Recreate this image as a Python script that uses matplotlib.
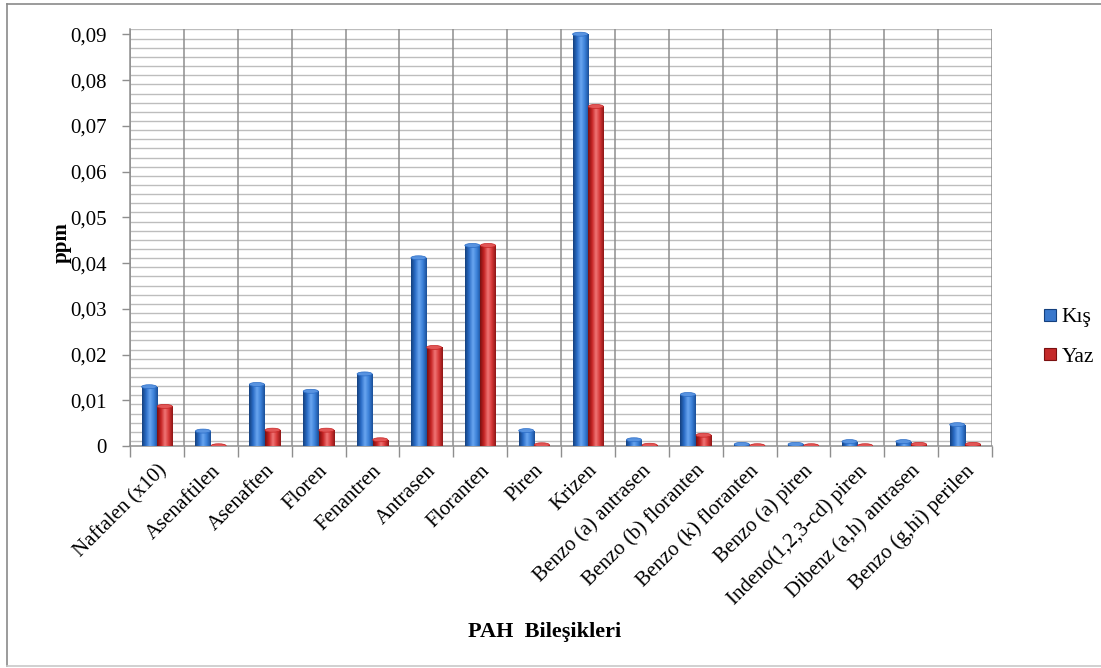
import numpy as np
import matplotlib
matplotlib.use("Agg")
import matplotlib.pyplot as plt
from matplotlib.patches import Rectangle, Ellipse
from matplotlib.lines import Line2D
from matplotlib.colors import LinearSegmentedColormap
from matplotlib.transforms import ScaledTranslation

plt.rcParams['font.family'] = ['Liberation Serif', 'DejaVu Serif']

categories = ["Naftalen (x10)", "Asenaftilen", "Asenaften", "Floren", "Fenantren",
              "Antrasen", "Floranten", "Piren", "Krizen", "Benzo (a) antrasen",
              "Benzo (b) floranten", "Benzo (k) floranten", "Benzo (a) piren",
              "Indeno(1,2,3-cd) piren", "Dibenz (a,h) antrasen", "Benzo (g,hi) perilen"]
kis = [0.0134, 0.0037, 0.0139, 0.0124, 0.0162, 0.0416, 0.0443, 0.0038, 0.0905,
       0.0018, 0.0117, 0.0008, 0.0008, 0.0014, 0.0014, 0.0051]
yaz = [0.0091, 0.0003, 0.0039, 0.0039, 0.0018, 0.0220, 0.0443, 0.0007, 0.0747,
       0.0006, 0.0028, 0.0005, 0.0005, 0.0005, 0.0008, 0.0008]
series_names = ["Kış", "Yaz"]
yticks = [0, 0.01, 0.02, 0.03, 0.04, 0.05, 0.06, 0.07, 0.08, 0.09]
ytick_labels = ["0", "0,01", "0,02", "0,03", "0,04", "0,05", "0,06", "0,07", "0,08", "0,09"]

W, H = 1101, 668
fig = plt.figure(figsize=(W / 100, H / 100), dpi=100)
ax_l, ax_r, ax_t, ax_b = 130, 992, 29, 446
ax = fig.add_axes([ax_l / W, 1 - ax_b / H, (ax_r - ax_l) / W, (ax_b - ax_t) / H])

n = len(categories)
ymax = 0.0912
ax.set_xlim(-0.5, n - 0.5)
ax.set_ylim(0, ymax)

# back-wall grid, shifted slightly upward for the depth look
shift = ScaledTranslation(0, 5 / 100, fig.dpi_scale_trans)
grid_y = np.arange(0, 0.0901, 0.002)
ax.hlines(grid_y, 0, 1, transform=ax.get_yaxis_transform() + shift,
          colors="#bdbdbd", lw=1.0, zorder=0.5)
ax.vlines(np.arange(-0.5, n), 0, ymax, colors="#8e8e8e", lw=1.1, zorder=0.6)

bw = 0.28
off = 0.145
cap_h = 4.0 / ((ax_b - ax_t) / ymax)  # about 4 px in data units

palettes = {
    0: ["#14407e", "#2a6cc6", "#6aa6f0", "#3a80d8", "#1a4f98"],
    1: ["#7a1010", "#c62424", "#f07676", "#d63636", "#8e1616"],
}
caps = {0: "#5893e0", 1: "#e25656"}
grad = np.linspace(0, 1, 64).reshape(1, -1)

for s, vals in enumerate([kis, yaz]):
    cmap = LinearSegmentedColormap.from_list(f"cyl{s}", palettes[s])
    dx = -off if s == 0 else off
    for i, v in enumerate(vals):
        x0 = i + dx - bw / 2
        top = max(v - cap_h / 2, 0.00005)
        base = Ellipse((i + dx, 0), bw, cap_h, facecolor=palettes[s][4],
                       edgecolor="none", zorder=2)
        ax.add_patch(base)
        rect = Rectangle((x0, 0), bw, top, facecolor="none", edgecolor="none", zorder=3)
        ax.add_patch(rect)
        im = ax.imshow(grad, cmap=cmap, aspect="auto", extent=(x0, x0 + bw, 0, top),
                       zorder=3, interpolation="bilinear")
        im.set_clip_path(rect)
        cap = Ellipse((i + dx, top), bw, cap_h, facecolor=caps[s],
                      edgecolor=palettes[s][1], lw=0.5, zorder=4)
        ax.add_patch(cap)

ax.set_xlim(-0.5, n - 0.5)
ax.set_ylim(0, ymax)

for side in ["top", "right"]:
    ax.spines[side].set_visible(False)
for side in ["left", "bottom"]:
    ax.spines[side].set_color("#8e8e8e")
    ax.spines[side].set_linewidth(1.1)

ax.set_yticks(yticks)
ax.set_yticklabels(ytick_labels, fontsize=15)
ax.tick_params(axis="y", length=6, width=1, color="#8e8e8e", pad=11)

ax.set_xticks(np.arange(-0.5, n), minor=False)
ax.set_xticklabels([])
ax.tick_params(axis="x", which="major", length=8, width=1, color="#8e8e8e")
ax.set_xticks(np.arange(n), minor=True)
ax.set_xticklabels(categories, minor=True, rotation=45, ha="right",
                   rotation_mode="anchor", fontsize=15)
ax.tick_params(axis="x", which="minor", length=0, pad=11)

fig.text(62 / W, 1 - 243 / H, "ppm", rotation=90, fontsize=15, fontweight="bold",
         ha="center", va="center")
fig.text(545 / W, 1 - 632 / H, "PAH  Bileşikleri", fontsize=16, fontweight="bold",
         ha="center", va="center")

handles = [Line2D([], [], marker="s", linestyle="none", markersize=8,
                  markerfacecolor=c, markeredgecolor=e, markeredgewidth=0.8)
           for c, e in [("#3a78cc", "#14407e"), ("#c42a2a", "#7a1010")]]
fig.legend(handles, series_names, loc="center left",
           bbox_to_anchor=(1028 / W, 1 - 337 / H), frameon=False, fontsize=15.5,
           handletextpad=0.05, labelspacing=0.9, handlelength=1.0, borderpad=0)

# outer frame of the chart area
frame_kw = dict(color="#8a8a8a", lw=1.2, transform=fig.transFigure)
fig.add_artist(Line2D([7 / W, 1.0], [1 - 4 / H, 1 - 4 / H], **frame_kw))
fig.add_artist(Line2D([7 / W, 7 / W], [1 - 4 / H, 1 - 666 / H], **frame_kw))
fig.add_artist(Line2D([7 / W, 1.0], [1 - 666 / H, 1 - 666 / H], color="#c8c8c8",
                      lw=1.2, transform=fig.transFigure))

fig.savefig("out.png", dpi=100)
